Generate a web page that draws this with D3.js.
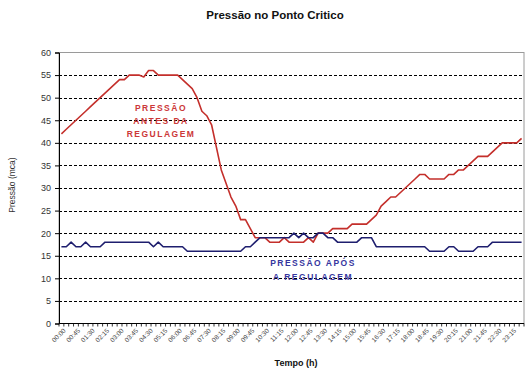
<!DOCTYPE html>
<html>
<head>
<meta charset="utf-8">
<script src="https://cdn.jsdelivr.net/npm/d3@7"></script>
<style>
  body { margin: 0; background: #fff; }
  svg { font-family: "Liberation Sans", Arial, sans-serif; }
</style>
</head>
<body>
<svg id="chart" width="531" height="375"></svg>
<script>
// Pressão no Ponto Critico - leituras a cada 15 min

const times = [
  "00:00","00:15","00:30","00:45","01:00","01:15","01:30","01:45",
  "02:00","02:15","02:30","02:45","03:00","03:15","03:30","03:45",
  "04:00","04:15","04:30","04:45","05:00","05:15","05:30","05:45",
  "06:00","06:15","06:30","06:45","07:00","07:15","07:30","07:45",
  "08:00","08:15","08:30","08:45","09:00","09:15","09:30","09:45",
  "10:00","10:15","10:30","10:45","11:00","11:15","11:30","11:45",
  "12:00","12:15","12:30","12:45","13:00","13:15","13:30","13:45",
  "14:00","14:15","14:30","14:45","15:00","15:15","15:30","15:45",
  "16:00","16:15","16:30","16:45","17:00","17:15","17:30","17:45",
  "18:00","18:15","18:30","18:45","19:00","19:15","19:30","19:45",
  "20:00","20:15","20:30","20:45","21:00","21:15","21:30","21:45",
  "22:00","22:15","22:30","22:45","23:00","23:15","23:30","23:45"
];

// pressão antes da regulagem (mca)
const antes = [
  42, 43, 44, 45, 46, 47, 48, 49, 50, 51, 52, 53, 54,
  54, 55, 55, 55, 54.6, 56, 56, 55, 55, 55, 55, 55,
  54, 53, 52, 50, 47, 46, 44, 39, 34, 31, 28, 26, 23, 23, 21,
  19, 19, 19, 18, 18, 18, 19, 18, 18, 18, 18, 19, 18, 20, 20, 20,
  21, 21, 21, 21, 22, 22, 22, 22, 23, 24, 26, 27, 28, 28, 29, 30,
  31, 32, 33, 33, 32, 32, 32, 32, 33, 33, 34, 34, 35, 36, 37, 37,
  37, 38, 39, 40, 40, 40, 40, 41
];

// pressão após a regulagem (mca)
const apos = [
  17, 17, 18, 17, 17, 18, 17, 17, 17,
  18, 18, 18, 18, 18, 18, 18, 18, 18, 18,
  17, 18, 17, 17, 17, 17, 17,
  16, 16, 16, 16, 16, 16, 16, 16, 16, 16, 16, 16,
  17, 17, 18, 19, 19, 19, 19, 19, 19, 19,
  20, 19, 20, 19, 19, 20, 20, 19, 19,
  18, 18, 18, 18, 18, 19, 19, 19,
  17, 17, 17, 17, 17, 17, 17, 17, 17, 17, 17,
  16, 16, 16, 16,
  17, 17,
  16, 16, 16, 16,
  17, 17, 17,
  18, 18, 18, 18, 18, 18, 18
];

const yTicks = [0, 5, 10, 15, 20, 25, 30, 35, 40, 45, 50, 55, 60];
const gridValues = [5, 10, 15, 20, 25, 30, 35, 40, 45, 50, 55];

const labelAntes = ["PRESSÃO", "ANTES DA", "REGULAGEM"];
const labelApos = ["PRESSÃO APÓS", "A REGULAGEM"];

const plot = { left: 59, right: 524, top: 52.5, bottom: 323.5 };
const redColor = "#c42f2b";
const blueColor = "#1e1e6e";

const svg = d3.select("#chart");

const x = d3.scaleBand()
    .domain(times)
    .range([plot.left, plot.right])
    .paddingInner(0)
    .paddingOuter(0);
const xc = d => x(d) + x.bandwidth() / 2;

const y = d3.scaleLinear()
    .domain([0, 60])
    .range([plot.bottom, plot.top]);

// title
svg.append("text")
    .attr("x", 275)
    .attr("y", 19)
    .attr("text-anchor", "middle")
    .style("font-size", "11.5px")
    .style("font-weight", "bold")
    .attr("fill", "#111")
    .text("Pressão no Ponto Critico");

// plot frame (top / right)
svg.append("rect")
    .attr("x", plot.left)
    .attr("y", plot.top)
    .attr("width", plot.right - plot.left)
    .attr("height", plot.bottom - plot.top)
    .attr("fill", "none")
    .attr("stroke", "#9a9a9a")
    .attr("stroke-width", 1);

// dashed gridlines
svg.append("g")
    .selectAll("line")
    .data(gridValues)
    .join("line")
    .attr("x1", plot.left)
    .attr("x2", plot.right)
    .attr("y1", d => Math.round(y(d)) + 0.5)
    .attr("y2", d => Math.round(y(d)) + 0.5)
    .attr("stroke", "#000")
    .attr("stroke-width", 1)
    .attr("stroke-dasharray", "3,2");

// y axis
const yAxis = svg.append("g")
    .attr("transform", `translate(${plot.left},0)`)
    .call(d3.axisLeft(y).tickValues(yTicks).tickSize(4).tickPadding(4).tickFormat(d3.format("d")));
yAxis.select(".domain").attr("stroke", "#000");
yAxis.selectAll(".tick line").attr("stroke", "#000");
yAxis.selectAll(".tick text")
    .style("font-size", "9px")
    .style("font-family", "Liberation Sans, Arial, sans-serif")
    .attr("fill", "#333");

// x axis: minor ticks at category boundaries
const boundaries = times.map(t => x(t)).concat([plot.right]);
svg.append("g")
    .selectAll("line")
    .data(boundaries)
    .join("line")
    .attr("x1", d => d)
    .attr("x2", d => d)
    .attr("y1", plot.bottom)
    .attr("y2", plot.bottom + 3)
    .attr("stroke", "#000")
    .attr("stroke-width", 0.8);

svg.append("line")
    .attr("x1", plot.left)
    .attr("x2", plot.right)
    .attr("y1", plot.bottom)
    .attr("y2", plot.bottom)
    .attr("stroke", "#000");

// x tick labels, every 45 min
const labelled = times.filter((t, i) => i % 3 === 0);
svg.append("g")
    .selectAll("text")
    .data(labelled)
    .join("text")
    .attr("transform", d => `translate(${xc(d) + 3},${plot.bottom + 6}) rotate(-45)`)
    .attr("text-anchor", "end")
    .attr("dy", "0.35em")
    .style("font-size", "6.5px")
    .attr("fill", "#444")
    .text(d => d);

// axis titles
svg.append("text")
    .attr("x", 296)
    .attr("y", 366)
    .attr("text-anchor", "middle")
    .style("font-size", "9px")
    .style("font-weight", "bold")
    .attr("fill", "#111")
    .text("Tempo (h)");

svg.append("text")
    .attr("transform", "translate(15,185) rotate(-90)")
    .attr("text-anchor", "middle")
    .style("font-size", "8.5px")
    .attr("fill", "#333")
    .text("Pressão (mca)");

// lines
const line = d3.line()
    .x((d, i) => xc(times[i]))
    .y(d => y(d));

svg.append("path")
    .datum(antes)
    .attr("d", line)
    .attr("fill", "none")
    .attr("stroke", redColor)
    .attr("stroke-width", 1.6)
    .attr("stroke-linejoin", "round");

svg.append("path")
    .datum(apos)
    .attr("d", line)
    .attr("fill", "none")
    .attr("stroke", blueColor)
    .attr("stroke-width", 1.6)
    .attr("stroke-linejoin", "round");

// annotations
svg.append("g")
    .selectAll("text")
    .data(labelAntes)
    .join("text")
    .attr("x", 161)
    .attr("y", (d, i) => 111 + i * 13)
    .attr("text-anchor", "middle")
    .style("font-size", "8.5px")
    .style("font-weight", "bold")
    .style("letter-spacing", "1.5px")
    .attr("fill", "#cc3838")
    .text(d => d);

svg.append("g")
    .selectAll("text")
    .data(labelApos)
    .join("text")
    .attr("x", 313)
    .attr("y", (d, i) => 266 + i * 14)
    .attr("text-anchor", "middle")
    .style("font-size", "8.5px")
    .style("font-weight", "bold")
    .style("letter-spacing", "1.5px")
    .attr("fill", "#36369e")
    .text(d => d);
</script>
</body>
</html>
